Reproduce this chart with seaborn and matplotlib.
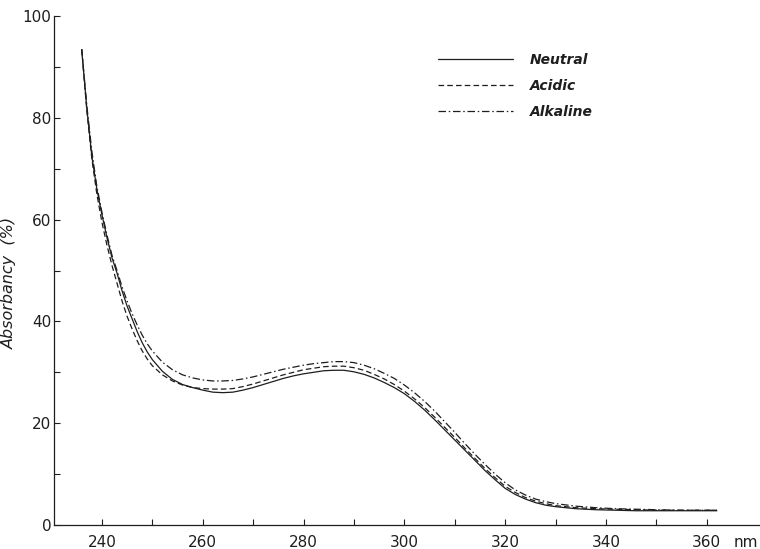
import matplotlib
matplotlib.use("Agg")
import matplotlib.pyplot as plt
import seaborn as sns
import pandas as pd

# ---- data ----
wavelength = [236, 237, 238, 239, 240, 241, 242, 243, 244, 245, 246, 247, 248, 249, 250,
              252, 254, 256, 258, 260, 262, 264, 266, 268, 270, 272, 274, 276, 278, 280,
              282, 284, 286, 288, 290, 292, 294, 296, 298, 300, 302, 304, 306, 308, 310,
              312, 314, 316, 318, 320, 322, 324, 326, 328, 330, 334, 338, 342, 346, 350,
              355, 362]

neutral = [93.3, 82.0, 72.5, 66.0, 61.0, 56.5, 52.5, 49.5, 46.0, 43.0, 40.5, 38.0, 35.8, 34.0, 32.5,
           30.2, 28.6, 27.6, 27.0, 26.5, 26.1, 26.0, 26.1, 26.5, 27.0, 27.6, 28.2, 28.8, 29.3, 29.7,
           30.0, 30.3, 30.4, 30.4, 30.1, 29.6, 28.9, 28.0, 27.0, 25.8, 24.3, 22.6, 20.7, 18.7, 16.7,
           14.7, 12.7, 10.7, 8.9, 7.2, 6.0, 5.1, 4.4, 3.9, 3.6, 3.2, 3.0, 2.9, 2.8, 2.8,
           2.8, 2.8]

acidic = [93.5, 81.5, 72.0, 65.0, 59.5, 55.0, 51.0, 47.5, 44.0, 41.0, 38.5, 36.2, 34.2, 32.6, 31.3,
          29.5, 28.3, 27.5, 27.0, 26.8, 26.7, 26.7, 26.8, 27.2, 27.7, 28.3, 28.9, 29.5, 30.0, 30.5,
          30.8, 31.1, 31.2, 31.2, 30.9, 30.4, 29.6, 28.7, 27.6, 26.3, 24.8, 23.1, 21.2, 19.2, 17.2,
          15.1, 13.1, 11.1, 9.3, 7.6, 6.4, 5.4, 4.7, 4.2, 3.8, 3.4, 3.2, 3.1, 3.0, 2.9,
          2.9, 2.9]

alkaline = [93.5, 82.5, 73.5, 66.5, 61.5, 57.0, 53.0, 50.0, 46.8, 44.0, 41.5, 39.3, 37.3, 35.6, 34.2,
            32.0, 30.5, 29.5, 28.9, 28.5, 28.3, 28.3, 28.4, 28.7, 29.1, 29.6, 30.1, 30.6, 31.0, 31.4,
            31.7, 31.9, 32.1, 32.1, 31.9, 31.4, 30.7, 29.8, 28.8, 27.5, 26.0, 24.3, 22.4, 20.3, 18.2,
            16.0, 13.9, 11.9, 10.0, 8.3, 6.9, 5.9, 5.1, 4.6, 4.2, 3.7, 3.4, 3.2, 3.1, 3.0,
            2.9, 2.9]

series_names = ["Neutral", "Acidic", "Alkaline"]
x_ticks_major = [240, 260, 280, 300, 320, 340, 360]
y_ticks_major = [0, 20, 40, 60, 80, 100]

# ---- style ----
sns.set_style("ticks")
plt.rcParams["font.family"] = ["DejaVu Sans"]
ink = "#1e1e1e"

fig = plt.figure(figsize=(7.6, 5.49), dpi=100)
ax = fig.add_axes([54 / 760, 1 - 525 / 549, 1 - 54 / 760 - 0.001, (525 - 16) / 549])

df = pd.DataFrame({
    "nm": wavelength * 3,
    "abs": neutral + acidic + alkaline,
    "series": [s for s in series_names for _ in wavelength],
})

styles = {
    "Neutral": "-",
    "Acidic": (0, (4.5, 2.5)),
    "Alkaline": (0, (6.0, 2.2, 1.2, 2.2)),
}
for name in series_names:
    sub = df[df["series"] == name]
    sns.lineplot(data=sub, x="nm", y="abs", ax=ax, color=ink, lw=0.9,
                 linestyle=styles[name], label=name, estimator=None)

ax.set_xlim(230.5, 370.4)
ax.set_ylim(0, 100)
ax.set_xticks(x_ticks_major)
ax.set_xticks(list(range(250, 361, 20)), minor=True)
ax.set_yticks(y_ticks_major)
ax.set_yticks(list(range(10, 100, 20)), minor=True)

for side in ["top", "right"]:
    ax.spines[side].set_visible(False)
for side in ["left", "bottom"]:
    ax.spines[side].set_linewidth(0.9)
    ax.spines[side].set_color(ink)

ax.tick_params(axis="both", which="both", direction="in", color=ink, width=0.8)
ax.tick_params(axis="both", which="major", length=4, labelsize=11, labelcolor=ink)
ax.tick_params(axis="both", which="minor", length=4)
ax.tick_params(axis="x", which="major", pad=7)
ax.tick_params(axis="y", which="major", pad=2)

ax.set_xlabel("")
ax.set_ylabel("Absorbancy  (%)", fontsize=11.5, fontstyle="italic", color=ink)
ax.yaxis.set_label_coords(-0.052, 0.475)

ax.annotate("nm", xy=(367.7, 0), xycoords=("data", "axes fraction"),
            xytext=(0, -7), textcoords="offset points",
            ha="center", va="top", fontsize=11, color=ink)

leg = ax.legend(loc="upper left", bbox_to_anchor=(438 / 760, 1 - 53 / 549),
                bbox_transform=fig.transFigure, frameon=False,
                handlelength=5.4, handletextpad=1.2, labelspacing=0.85,
                borderpad=0, borderaxespad=0, fontsize=10)
for t in leg.get_texts():
    t.set_fontstyle("italic")
    t.set_fontweight("bold")
    t.set_color(ink)

fig.savefig("out.png", dpi=100)
